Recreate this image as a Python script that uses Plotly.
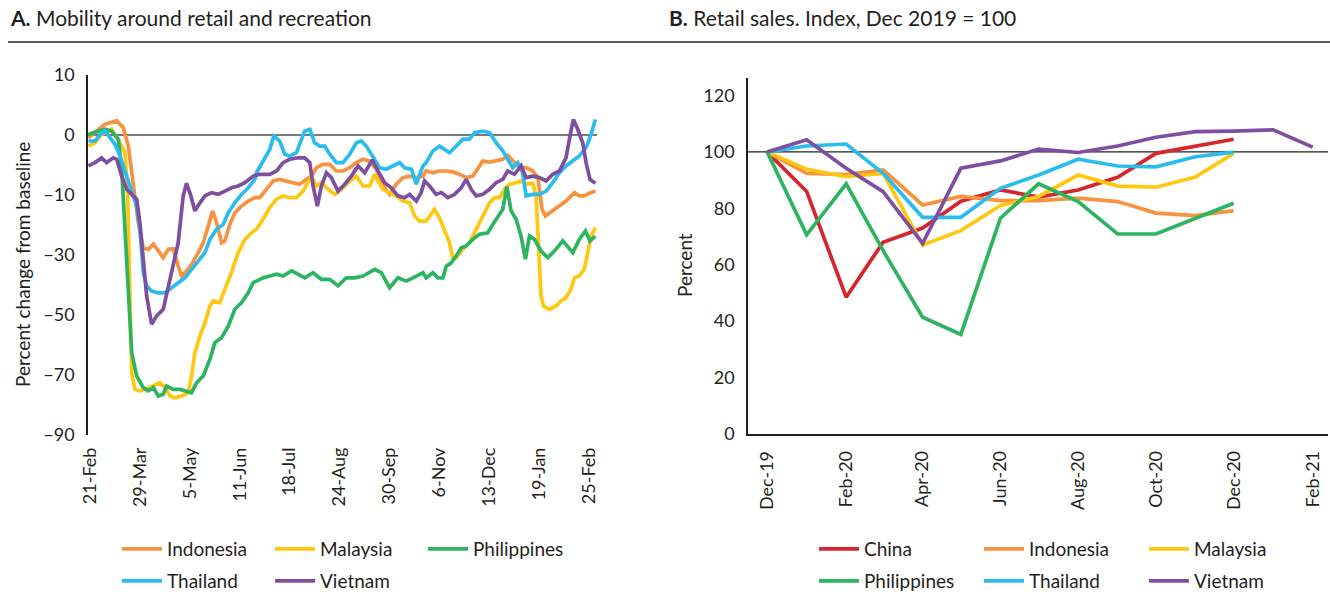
import pandas as pd
import plotly.graph_objects as go

# ---------------- Panel A data (days since 21-Feb-2020, % change from baseline) ----------------
A_BASE = "2020-02-21"
a_countries = ["Indonesia", "Malaysia", "Philippines", "Thailand", "Vietnam"]

idn_days = [-1.2, 11.1, 19.8, 24.7, 28.4, 32.1, 35.8, 39.5, 43.2, 47, 50.6, 54.3, 58, 61.7, 65.4, 67.9, 71.6, 75.3,
            80.3, 84, 87.7, 90.9, 93.8, 97.5, 100, 103.7, 107.4, 112.3, 117.3, 122.2, 125.9, 130.8, 135.8, 140.7,
            145.7, 150.6, 155.5, 160.5, 164.2, 167.9, 172.8, 177.8, 182.7, 187.6, 192.6, 197.5, 202.5, 207.4, 212.3,
            217.3, 222.2, 227.1, 232.1, 237, 242, 246.9, 249.3, 254.3, 259.2, 264.2, 269.1, 274, 279, 283.9, 287.6,
            291.3, 296.3, 301.2, 306.1, 309.8, 313.5, 318.5, 323.4, 328.4, 332.1, 335.3, 337.7, 341.9, 346.9, 353,
            359.2, 362.9, 366.6, 370.3, 374.8]
idn_vals = [-0.9, 3.6, 4.7, 2.4, -3.7, -15.9, -29.2, -37.6, -38.1, -36.4, -38.7, -40.9, -38.1, -37.9, -43.7, -47, -45.3,
            -43.1, -39.2, -35.9, -30.3, -25.3, -29.2, -35.9, -35.3, -29.8, -25.9, -23.7, -22, -20.9, -20.9, -18.1,
            -15.3, -14.8, -15.3, -16.1, -16.4, -14.8, -13.7, -10.9, -9.8, -9.8, -12, -12, -10.9, -9.2, -8.1, -8.7,
            -11.4, -17, -19.8, -16.4, -14.2, -13.7, -14.2, -13.7, -12, -12.6, -12, -12, -12.3, -13.1, -14.2, -13.7,
            -11.4, -8.7, -9, -8.7, -8.1, -6.8, -8.7, -10.9, -10.9, -12, -14.2, -24.8, -27, -25.7, -24.2, -22, -19.2,
            -20.3, -20.3, -19.4, -18.7]

mys_days = [-1.2, 3.7, 8.6, 16, 23.5, 25.9, 27.9, 29.6, 30.9, 33.3, 37, 40.7, 45.7, 51.9, 55.6, 59.3, 63, 67.9, 72.8,
            75.3, 77.8, 81.5, 85.2, 88.9, 91.4, 96.3, 100, 104.9, 109.9, 114.8, 119.8, 123.4, 128.4, 133.3, 138.3,
            143.2, 148.1, 153.1, 158, 161.7, 164.2, 167.9, 171.6, 176.5, 181.5, 186.4, 191.3, 197.5, 202.5, 207.4,
            211.1, 213.6, 217.3, 222.2, 227.1, 232.1, 237, 240.7, 244.4, 249.3, 255.5, 259.2, 262.9, 266.6, 269.1,
            271.6, 276.5, 281.4, 285.1, 288.8, 292.5, 296.3, 300, 303.7, 307.4, 311.1, 316, 319.7, 323.4, 328.4,
            330.8, 332.8, 334.5, 336.3, 340.7, 345.6, 349.3, 353, 356.7, 359.2, 362.9, 366.6, 369.1, 371.6, 374.8]
mys_vals = [-3.7, -2.6, 0.2, 1.9, -3.7, -5.9, -20.3, -53.7, -79.2, -84.8, -85.3, -84.8, -83.7, -82.6, -84.2, -87,
            -87.6, -87, -85.9, -80.3, -72.6, -67, -62.6, -57, -55.3, -55.9, -51.4, -45.9, -39.2, -34.8, -32.6, -31.4,
            -28.1, -24.2, -21.4, -20.3, -20.9, -20.9, -18.7, -15.9, -13.7, -17, -15.9, -18.1, -19.8, -18.1, -15.9,
            -13.7, -17, -17, -13.1, -15.3, -18.1, -19.2, -20.3, -22, -22.6, -27, -28.7, -28.7, -24.8, -27.6, -31.4,
            -35.9, -41.4, -40.9, -38.1, -35.9, -32.6, -29.2, -25.9, -22.6, -20.9, -20.9, -18.1, -16.4, -15.9, -15.3,
            -16.4, -16.1, -20.3, -37, -53.7, -57, -58.1, -57, -55.3, -54.2, -51.4, -47.6, -47, -44.8, -39.2, -33.7,
            -30.9]

phl_days = [-1.2, 3.7, 11.1, 16, 21, 23.5, 25.9, 28.4, 30.9, 34.6, 39.5, 43.2, 47, 50.6, 54.3, 56.8, 61.7, 66.7,
            70.4, 75.3, 79, 84, 88.9, 92.6, 97.5, 102.5, 107.4, 112.3, 117.3, 121, 123.4, 128.4, 133.3, 138.3, 143.2,
            149.4, 154.3, 159.2, 165.4, 171.6, 177.8, 184, 190.1, 196.3, 202.5, 206.2, 211.1, 216, 222.2, 228.4,
            234.5, 239.5, 246.9, 249.3, 254.3, 258, 261.7, 264.2, 267.9, 271.6, 275.3, 279, 283.9, 288.8, 295,
            298.7, 302.4, 306.1, 309.1, 312.3, 316, 319.7, 322.9, 325.9, 329.6, 334.5, 339.5, 344.4, 350.6, 358,
            362.9, 367.4, 370.8, 374.8]
phl_vals = [0.2, 0.8, 1.9, 1.3, -1.4, -11.4, -31.4, -53.7, -72.6, -80.3, -84.2, -85.3, -84.2, -87, -86.4, -83.7,
            -84.8, -84.8, -85.3, -85.9, -82.6, -80.3, -74.8, -69.2, -67.6, -63.7, -58.1, -55.9, -52.6, -49.2, -48.7,
            -47.6, -47, -46.4, -47, -45.3, -46.4, -47.6, -45.9, -48.1, -48.1, -50.3, -47.6, -47.6, -47, -45.9, -44.8,
            -45.9, -50.9, -47.6, -48.7, -47.6, -45.9, -47.6, -45.9, -47.6, -47.6, -43.7, -42.6, -40.3, -37.6, -37,
            -34.8, -33.1, -32.6, -29.8, -27, -24.8, -17.2, -25.3, -28.1, -33.7, -41.4, -33.7, -34.8, -38.7, -40.9,
            -38.7, -35.3, -39.2, -34.8, -32, -35.3, -33.7]

tha_days = [-1.2, 3.7, 7.4, 11.1, 14.8, 18.5, 22.2, 27.2, 32.1, 34.6, 37, 39.5, 42, 45.7, 50.6, 55.6, 60.5, 65.4,
            70.4, 75.3, 80.3, 85.2, 88.9, 93.8, 98.8, 102.5, 107.4, 112.3, 117.3, 122.2, 123.4, 129.6, 133.3, 136.3,
            140.7, 144.4, 148.1, 153.1, 156.8, 159.2, 163, 166.6, 170.4, 174.1, 177.8, 182.7, 187.6, 192.6, 197.5,
            201.2, 204.9, 209.9, 214.8, 219.7, 224.7, 229.6, 233.3, 238.3, 242, 246.9, 249.3, 254.3, 259.2, 266.6,
            271.6, 276.5, 281.4, 285.1, 291.3, 296.3, 301.2, 306.1, 309.8, 313.5, 317.2, 320.9, 323.4, 328.4, 333.3,
            338.3, 343.2, 348.1, 353, 358, 362.9, 367.9, 371.6, 374.8]
tha_vals = [-2, -2, 0.2, 1.3, -0.9, -3.1, -7, -13.7, -20.3, -23.7, -31.4, -45.9, -50.3, -52, -52.6, -52.6, -50.9,
            -49.2, -47.6, -44.8, -42, -39.2, -34.8, -31.4, -29.8, -25.9, -22.6, -19.8, -17.6, -14.8, -12.6, -7.6,
            -4.8, -0.3, -2, -6.4, -7, -5.9, -1.4, 1.3, 1.9, -2.6, -3.7, -3.7, -6.4, -9.2, -9.2, -6.4, -2.6, -2,
            -3.7, -7.6, -10.9, -11.4, -10.3, -9.2, -10.9, -11.4, -16.4, -10.3, -9.2, -5.3, -3.7, -5.9, -3.7, -1.4,
            -1.4, 0.8, 1.3, 0.8, -2.6, -5.3, -8.1, -10.9, -9.2, -12.6, -20.3, -19.8, -19.8, -18.7, -15.9, -12.6,
            -10.3, -8.7, -7, -4.2, 0.2, 5.2]

vnm_days = [-1.2, 3.7, 8.6, 12.3, 17.3, 19.8, 23.5, 27.2, 30.9, 34.6, 37, 39.5, 42, 45.7, 49.4, 54.3, 58, 61.7,
            65.4, 69.1, 71.6, 74.8, 77.8, 81.5, 85.2, 90.1, 95.1, 100, 104.9, 109.9, 114.8, 121, 125.9, 133.3,
            138.3, 143.2, 148.1, 154.3, 159.2, 163, 165.4, 168.6, 171.6, 175.3, 179, 183.9, 188.9, 193.8, 198.8,
            203.7, 209.4, 213.6, 218.5, 223.4, 228.4, 233.3, 237, 242, 245.6, 248.1, 251.8, 256.7, 260.5, 265.4,
            270.3, 275.3, 279, 282.7, 286.4, 291.3, 296.3, 301.2, 306.1, 309.8, 314.8, 319.7, 323.4, 328.4, 333.3,
            338.3, 343.2, 348.1, 353, 356, 358.5, 361.7, 365.4, 367.9, 370.8, 374.8]
vnm_vals = [-10.3, -9.2, -7.6, -9.2, -7.6, -8.1, -13.7, -18.1, -19.8, -21.4, -29.2, -40.3, -53.7, -63.1, -60.3,
            -58.1, -50.3, -43.7, -35.9, -20.3, -16.1, -20.3, -25.3, -22.6, -20.3, -19.2, -19.8, -18.7, -17.6, -17,
            -15.9, -13.7, -13.1, -13.1, -12, -9.2, -8.1, -7.6, -7.6, -9.2, -17, -23.7, -17, -12.6, -14.2, -18.7,
            -16.4, -13.7, -10.3, -12.6, -8.3, -12, -15.9, -17.6, -20.3, -20.9, -19.8, -22, -19.2, -15.3, -17,
            -19.8, -19.2, -20.9, -19.8, -17.6, -14.8, -18.1, -20.3, -19.8, -18.1, -15.9, -14.8, -12, -13.1, -10.3,
            -14.2, -13.7, -14.2, -15.3, -13.1, -12, -7.6, -0.3, 5.2, 1.9, -2.6, -9.2, -14.8, -16.1]

a_days = [idn_days, mys_days, phl_days, tha_days, vnm_days]
a_vals = [idn_vals, mys_vals, phl_vals, tha_vals, vnm_vals]
a_tick_dates = ["2020-02-21", "2020-03-29", "2020-05-05", "2020-06-11", "2020-07-18", "2020-08-24",
                "2020-09-30", "2020-11-06", "2020-12-13", "2021-01-19", "2021-02-25"]
a_tick_text = ["21-Feb", "29-Mar", "5-May", "11-Jun", "18-Jul", "24-Aug", "30-Sep", "6-Nov", "13-Dec",
               "19-Jan", "25-Feb"]
a_ytick_vals = [20, 0, -20, -40, -60, -80, -100]
a_ytick_text = ["10", "0", "\u221210", "\u221230", "\u221250", "\u221270", "\u221290"]

# ---------------- Panel B data (Index, Dec 2019 = 100) ----------------
b_months = pd.date_range("2019-12-01", "2021-02-01", freq="MS")
b_countries = ["China", "Indonesia", "Malaysia", "Philippines", "Thailand", "Vietnam"]
china = [100, 86, 48.5, 68, 73, 82.5, 86.5, 84, 86.5, 91, 99.5, 102, 104.5]
indonesia = [100, 92.4, 92, 93.6, 81.2, 84.2, 82.7, 82.7, 83.6, 82.4, 78.3, 77.4, 79.2]
malaysia = [100, 93.9, 91.2, 92.4, 67, 72.1, 81, 84.2, 91.8, 87.9, 87.5, 91.1, 99.5]
philippines = [100, 70.6, 88.7, 65, 41.4, 35.3, 76.5, 88.7, 82.4, 70.9, 70.9, 76.5, 81.8]
thailand = [100, 102.1, 102.8, 92.4, 76.8, 76.8, 87.1, 91.8, 97.4, 95, 94.7, 98.3, 99.9]
vietnam = [100, 104.3, 94.2, 85.9, 67.6, 94.2, 96.8, 101, 99.8, 102.1, 105.2, 107.2, 107.4, 107.8, 101.7]
b_vals = [china, indonesia, malaysia, philippines, thailand, vietnam]
b_tick_dates = ["2019-12-01", "2020-02-01", "2020-04-01", "2020-06-01", "2020-08-01", "2020-10-01",
                "2020-12-01", "2021-02-01"]
b_tick_text = ["Dec-19", "Feb-20", "Apr-20", "Jun-20", "Aug-20", "Oct-20", "Dec-20", "Feb-21"]

colors = {"China": "#D7262B", "Indonesia": "#F7923E", "Malaysia": "#FFC710", "Philippines": "#2DB461",
          "Thailand": "#2ABCEE", "Vietnam": "#7E4EA0"}

W, H = 1330, 603
FONT = "Lato"
TXT = "#231F20"


def px(x):
    return x / W


def py(y):
    return (H - y) / H


fig = go.Figure()

a_legend = {"Indonesia": "legend", "Malaysia": "legend", "Philippines": "legend",
            "Thailand": "legend2", "Vietnam": "legend2"}
base = pd.Timestamp(A_BASE)
for name, d, v in zip(a_countries, a_days, a_vals):
    dates = base + pd.to_timedelta(d, unit="D")
    fig.add_trace(go.Scatter(x=dates, y=v, mode="lines", name=name, xaxis="x", yaxis="y",
                             line=dict(color=colors[name], width=3.7), legend=a_legend[name],
                             hoverinfo="skip"))

b_legend = {"China": "legend3", "Indonesia": "legend3", "Malaysia": "legend3",
            "Philippines": "legend4", "Thailand": "legend4", "Vietnam": "legend4"}
for name, v in zip(b_countries, b_vals):
    fig.add_trace(go.Scatter(x=b_months[:len(v)], y=v, mode="lines", name=name, xaxis="x2", yaxis="y2",
                             line=dict(color=colors[name], width=3.7), legend=b_legend[name],
                             hoverinfo="skip"))

a_x0 = base - pd.Timedelta(days=1.5)
a_x1 = base + pd.Timedelta(days=376)
b_x0 = pd.Timestamp("2019-11-16")
b_x1 = pd.Timestamp("2021-02-13")

fig.add_shape(type="line", xref="x", yref="y", x0=a_x0, x1=a_x1, y0=0, y1=0,
              line=dict(color="#4D4D4D", width=1.6), layer="below")
fig.add_shape(type="line", xref="x2", yref="y2", x0=b_x0, x1=b_x1, y0=100, y1=100,
              line=dict(color="#231F20", width=1.3), layer="below")
fig.add_shape(type="line", xref="paper", yref="paper", x0=px(8), x1=px(1330), y0=py(42), y1=py(42),
              line=dict(color="#231F20", width=1.5))

tickfont = dict(family=FONT, size=18, color=TXT)
leg_common = dict(orientation="h", font=dict(family=FONT, size=19, color=TXT), bgcolor="rgba(0,0,0,0)",
                  xanchor="left", yanchor="middle", entrywidthmode="pixels", tracegroupgap=0,
                  itemwidth=40, itemclick=False, itemdoubleclick=False)

fig.update_layout(
    width=W, height=H, margin=dict(l=0, r=0, t=0, b=0, autoexpand=False),
    paper_bgcolor="white", plot_bgcolor="white",
    font=dict(family=FONT, color=TXT),
    xaxis=dict(domain=[px(88), px(597)], type="date", range=[a_x0, a_x1], tickvals=a_tick_dates,
               ticktext=a_tick_text, tickangle=-90, tickfont=tickfont, showgrid=False, zeroline=False,
               showline=False, ticks="", ticklabelstandoff=8, anchor="y", automargin=False),
    yaxis=dict(domain=[py(435), py(75)], range=[-100, 20], tickvals=a_ytick_vals, ticktext=a_ytick_text,
               tickfont=tickfont, showgrid=False, zeroline=False, showline=True, linecolor="#231F20",
               linewidth=1.5, ticks="", ticklabelstandoff=8, anchor="x", automargin=False),
    xaxis2=dict(domain=[px(748), px(1328)], type="date", range=[b_x0, b_x1], tickvals=b_tick_dates,
                ticktext=b_tick_text, tickangle=-90, tickfont=tickfont, showgrid=False, zeroline=False,
                showline=True, linecolor="#231F20", linewidth=1.5, ticks="", ticklabelstandoff=8, anchor="y2",
                automargin=False),
    yaxis2=dict(domain=[py(434), py(78)], range=[0, 126.2], tickvals=[0, 20, 40, 60, 80, 100, 120],
                tickfont=tickfont, showgrid=False, zeroline=False, showline=True, linecolor="#231F20",
                linewidth=1.5, ticks="", ticklabelstandoff=8, anchor="x2", automargin=False),
    legend=dict(x=px(117), y=py(549), entrywidth=98, **leg_common),
    legend2=dict(x=px(117), y=py(581), entrywidth=98, **leg_common),
    legend3=dict(x=px(814), y=py(549), entrywidth=110, **leg_common),
    legend4=dict(x=px(814), y=py(581), entrywidth=110, **leg_common),
    annotations=[
        dict(text="<b>A.</b> Mobility around retail and recreation", x=px(8), y=py(18), xref="paper",
             yref="paper", xanchor="left", yanchor="middle", showarrow=False,
             font=dict(family=FONT, size=21, color=TXT)),
        dict(text="<b>B.</b> Retail sales. Index, Dec 2019 = 100", x=px(667), y=py(18), xref="paper",
             yref="paper", xanchor="left", yanchor="middle", showarrow=False,
             font=dict(family=FONT, size=21, color=TXT)),
        dict(text="Percent change from baseline", x=px(22), y=py(265), xref="paper", yref="paper",
             xanchor="center", yanchor="middle", textangle=-90, showarrow=False,
             font=dict(family=FONT, size=19, color=TXT)),
        dict(text="Percent", x=px(684), y=py(265), xref="paper", yref="paper",
             xanchor="center", yanchor="middle", textangle=-90, showarrow=False,
             font=dict(family=FONT, size=19, color=TXT)),
    ],
)

fig.write_html("out.html", config={"displayModeBar": False},
               post_script="document.body.style.margin='0';")
